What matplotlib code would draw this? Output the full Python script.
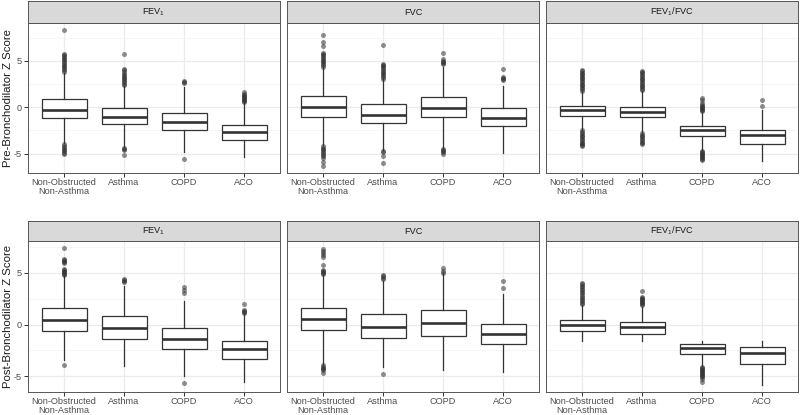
import numpy as np
import matplotlib.pyplot as plt

plt.rcParams['font.family'] = ['Liberation Sans', 'DejaVu Sans']
plt.rcParams['mathtext.fontset'] = 'custom'
plt.rcParams['mathtext.rm'] = 'Liberation Sans'
plt.rcParams['axes.unicode_minus'] = False

groups = ['Non-Obstructed\nNon-Asthma', 'Asthma', 'COPD', 'ACO']
measures = ['FEV$_1$', 'FVC', 'FEV$_1$/FVC']
row_labels = ['Pre-Bronchodilator Z Score', 'Post-Bronchodilator Z Score']

# (whisker low, q1, median, q3, whisker high) for each group
pre_fev1 = [(-3.9, -1.14, -0.25, 0.86, 3.75),
            (-4.3, -1.8, -1.07, -0.1, 2.3),
            (-4.8, -2.5, -1.54, -0.6, 2.15),
            (-5.36, -3.5, -2.64, -1.86, 0.55)]
pre_fev1_out = [[3.85, 4.0, 4.15, 4.3, 4.45, 4.6, 4.75, 4.9, 5.05, 5.2, 5.35, 5.5, 5.6, 5.7, 8.36,
                 -4.0, -4.15, -4.3, -4.45, -4.6, -4.75, -4.9, -5.0],
                [2.4, 2.55, 2.7, 2.85, 3.0, 3.15, 3.3, 3.45, 3.6, 3.8, 4.0, 4.1, 5.7,
                 -4.4, -4.5, -4.6, -5.1],
                [2.6, 2.7, 2.85, -5.6],
                [0.6, 0.7, 0.8, 0.9, 1.0, 1.1, 1.2, 1.3, 1.4, 1.6]]

pre_fvc = [(-4.1, -1.04, 0.0, 1.18, 4.3),
           (-4.6, -1.68, -0.79, 0.32, 3.07),
           (-4.4, -1.1, -0.04, 1.14, 4.3),
           (-4.9, -2.07, -1.14, -0.07, 2.25)]
pre_fvc_out = [[4.4, 4.55, 4.7, 4.85, 5.0, 5.15, 5.3, 5.45, 5.6, 5.75, 5.9, 6.6, 7.0, 7.8,
                -4.2, -4.35, -4.5, -4.65, -4.8, -4.95, -5.1, -5.25, -5.5, -5.85, -6.3],
               [3.1, 3.25, 3.4, 3.55, 3.7, 3.85, 4.0, 4.15, 4.3, 4.45, 4.6, 4.7, 6.75,
                -4.7, -4.8, -5.3, -6.0],
               [4.7, 4.8, 4.9, 5.0, 5.2, 5.86, -4.5, -4.6, -4.7, -4.8, -5.0],
               [2.96, 3.05, 3.15, 3.25, 4.1]]

pre_ratio = [(-2.46, -0.9, -0.32, 0.18, 1.75),
             (-2.75, -1.1, -0.5, 0.07, 1.8),
             (-4.7, -3.1, -2.5, -2.0, -0.5),
             (-5.8, -3.93, -3.0, -2.43, -0.32)]
pre_ratio_out = [[1.8, 1.95, 2.1, 2.25, 2.4, 2.55, 2.7, 2.85, 3.0, 3.15, 3.3, 3.45, 3.6, 3.75, 3.9, 4.0,
                  -2.5, -2.65, -2.8, -2.95, -3.1, -3.25, -3.4, -3.55, -3.7, -3.85, -4.0, -4.1, -4.2],
                 [1.85, 2.0, 2.15, 2.3, 2.45, 2.6, 2.75, 2.9, 3.05, 3.2, 3.35, 3.5, 3.65, 3.8, 3.9,
                  -2.8, -2.95, -3.1, -3.25, -3.4, -3.55, -3.7, -3.85, -4.0],
                 [-0.35, -0.25, -0.15, -0.05, 0.05, 0.15, 0.3, 0.5, 0.75, 1.0,
                  -4.75, -4.85, -4.95, -5.05, -5.15, -5.25, -5.35, -5.45, -5.55, -5.7],
                 [0.1, 0.75]]

post_fev1 = [(-3.43, -0.58, 0.48, 1.57, 4.68),
             (-4.0, -1.38, -0.38, 0.8, 3.69),
             (-4.97, -2.37, -1.41, -0.38, 2.28),
             (-5.5, -3.37, -2.4, -1.57, 1.06)]
post_fev1_out = [[4.75, 4.85, 4.95, 5.05, 5.15, 5.25, 5.4, 5.9, 6.0, 6.1, 6.2, 6.35, 7.4, -3.9],
                 [4.1, 4.2, 4.3, 4.36],
                 [3.08, 3.3, 3.62, -5.6],
                 [1.15, 1.25, 1.35, 1.44, 1.96]]

post_fvc = [(-3.88, -0.54, 0.54, 1.63, 4.78),
            (-4.1, -1.28, -0.26, 1.03, 4.23),
            (-4.42, -1.06, 0.13, 1.38, 4.94),
            (-4.6, -1.89, -0.87, 0.1, 2.95)]
post_fvc_out = [[4.85, 4.95, 5.05, 5.15, 5.3, 5.7, 6.54, 6.7, 6.9, 7.1, 7.3,
                 -3.95, -4.05, -4.15, -4.25, -4.36, -4.68],
                [4.36, 4.5, 4.65, 4.78, -4.78],
                [5.0, 5.2, 5.48],
                [3.56, 4.17]]

post_ratio = [(-1.57, -0.58, -0.03, 0.45, 1.9),
              (-1.57, -0.87, -0.26, 0.29, 1.73),
              (-4.04, -2.82, -2.28, -1.89, -1.63),
              (-5.8, -3.85, -2.79, -2.18, -1.63)]
post_ratio_out = [[1.95, 2.1, 2.25, 2.4, 2.55, 2.7, 2.85, 3.0, 3.15, 3.3, 3.45, 3.6, 3.75, 3.9, 4.0],
                  [1.9, 2.0, 2.1, 2.2, 2.3, 2.4, 2.5, 2.6, 2.7, 3.27],
                  [-4.1, -4.2, -4.3, -4.4, -4.5, -4.6, -4.7, -4.8, -4.9, -5.0, -5.1, -5.26, -5.58],
                  []]

rows = [[(pre_fev1, pre_fev1_out), (pre_fvc, pre_fvc_out), (pre_ratio, pre_ratio_out)],
        [(post_fev1, post_fev1_out), (post_fvc, post_fvc_out), (post_ratio, post_ratio_out)]]


def to_stats(boxes, outs):
    return [dict(whislo=b[0], q1=b[1], med=b[2], q3=b[3], whishi=b[4], fliers=o)
            for b, o in zip(boxes, outs)]


W, H = 800, 415
fig = plt.figure(figsize=(W / 100, H / 100), dpi=100)


def rect(x, top, w, h):
    return [x / W, 1 - (top + h) / H, w / W, h / H]


panel_x = [28, 287, 546]
panel_w = 252
# (strip top, panel top, panel bottom) in pixels
row_pos = [(1, 23, 172.5), (221, 241, 391.5)]

edge = '#333333'
for r, row in enumerate(rows):
    s_top, p_top, p_bot = row_pos[r]
    vals = []
    for boxes, outs in row:
        for b, o in zip(boxes, outs):
            vals += list(b) + list(o)
    lo, hi = min(vals), max(vals)
    pad = 0.05 * (hi - lo)
    for c, (boxes, outs) in enumerate(row):
        ax = fig.add_axes(rect(panel_x[c], p_top, panel_w, p_bot - p_top))
        ax.set_axisbelow(True)
        ax.set_yticks([-5, 0, 5])
        ax.set_yticks([-7.5, -2.5, 2.5, 7.5], minor=True)
        ax.grid(True, which='major', color='#EBEBEB', linewidth=0.9)
        ax.grid(True, which='minor', axis='y', color='#F2F2F2', linewidth=0.5)
        ax.bxp(to_stats(boxes, outs), positions=[1, 2, 3, 4], widths=0.75,
               patch_artist=True, showcaps=False,
               boxprops=dict(facecolor='white', edgecolor=edge, linewidth=0.9),
               whiskerprops=dict(color=edge, linewidth=0.9),
               medianprops=dict(color=edge, linewidth=1.9),
               flierprops=dict(marker='o', markerfacecolor=edge, markeredgecolor='none',
                               markersize=3.6, alpha=0.55))
        ax.set_xlim(0.4, 4.6)
        ax.set_ylim(lo - pad, hi + pad)
        ax.set_xticks([1, 2, 3, 4])
        ax.set_xticklabels(groups, linespacing=0.95)
        ax.tick_params(axis='both', which='major', length=3, width=0.7, color=edge,
                       labelsize=6.6, labelcolor='#4D4D4D', pad=1.2)
        ax.tick_params(axis='y', which='minor', length=0)
        if c > 0:
            ax.tick_params(axis='y', which='major', length=0, labelleft=False)
        for sp in ax.spines.values():
            sp.set_color('#555555')
            sp.set_linewidth(0.7)

        st = fig.add_axes(rect(panel_x[c], s_top, panel_w, p_top - s_top))
        st.set_facecolor('#D9D9D9')
        st.set_xticks([])
        st.set_yticks([])
        for sp in st.spines.values():
            sp.set_color('#555555')
            sp.set_linewidth(0.7)
        st.text(0.5, 0.5, measures[c], ha='center', va='center', fontsize=6.6,
                color='#1A1A1A', transform=st.transAxes)

    fig.text(8.5 / W, 1 - (p_top + p_bot) / 2 / H, row_labels[r], rotation=90,
             ha='center', va='center', fontsize=8.2, color='#1A1A1A')

fig.savefig('out.png', dpi=100)
